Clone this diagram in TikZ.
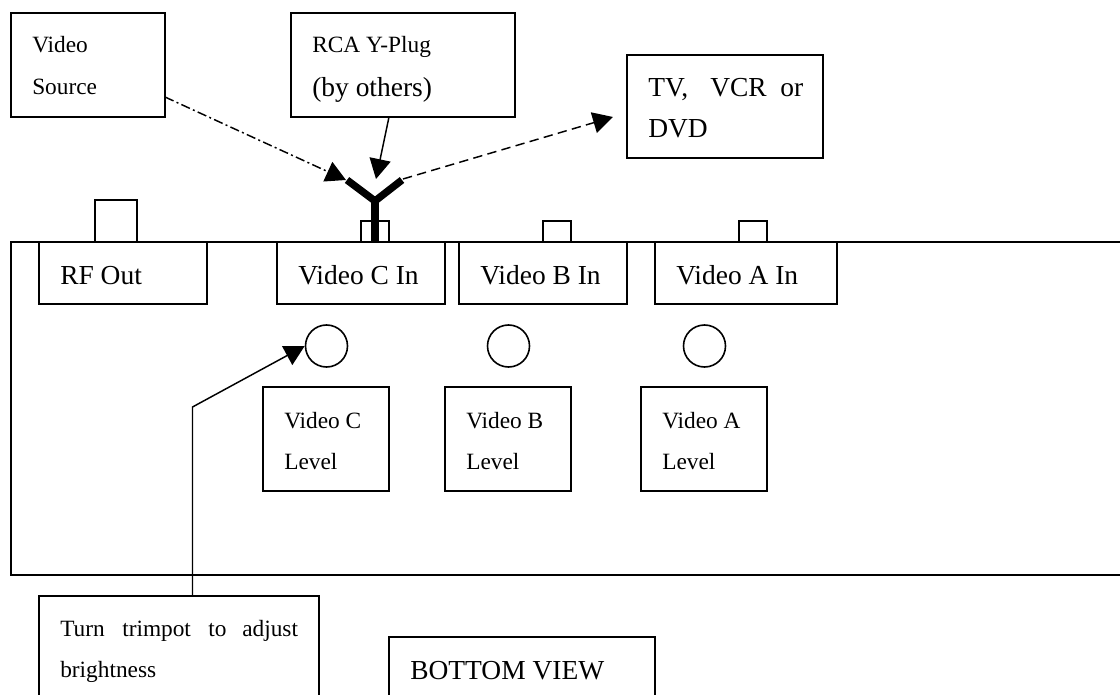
\documentclass[tikz,border=0pt]{standalone}
\usepackage{fontspec}
\setmainfont{Liberation Serif}
\usetikzlibrary{arrows.meta}
\tikzset{
  x=0.75pt,y=-0.75pt,
  thin box/.style={draw=black,line width=1.2pt},
  big/.style={font=\fontsize{20.6}{24}\selectfont,anchor=base west,inner sep=0pt},
  small/.style={font=\fontsize{17.5}{18}\selectfont,anchor=base west,inner sep=0pt},
  tipshape/.style={-{Triangle[length=15pt,width=16pt]}},
  lead/.style={line width=1.1pt,tipshape},
  plug/.style={line width=5.5pt,line cap=butt,line join=miter},
  trim/.style={draw,circle,line width=1.2pt,minimum size=31.5pt,inner sep=0pt}
}
\begin{document}
\begin{tikzpicture}
\useasboundingbox (0,0) rectangle (1120,695);
% chassis
\draw[thin box] (1120,242) -- (11,242) -- (11,575) -- (1120,575);
% tabs
\draw[thin box] (95,242) -- (95,200) -- (137,200) -- (137,242);
\draw[thin box] (361,242) -- (361,221) -- (389,221) -- (389,242);
\draw[thin box] (543,242) -- (543,221) -- (571,221) -- (571,242);
\draw[thin box] (739,242) -- (739,221) -- (767,221) -- (767,242);
% top boxes
\draw[thin box] (11,13) rectangle (165,117);
\node[small] (vs1) at (32,53) {Video};
\node[small] (vs2) at (32,95) {Source};
\draw[thin box] (291,13) rectangle (515,117);
\coordinate (rcaB) at (389,117);
\node[small] (rca1) at (312,53) {RCA Y-Plug};
\node[big] (rca2) at (312,97) {(by others)};
\draw[thin box] (627,55) rectangle (823,158);
\node[big] (tv1) at (648,97) {TV,};
\node[big] (tv1b) at (710,97) {VCR};
\node[big] (tv1c) at (780,97) {or};
\node[big] (tv2) at (648,138) {DVD};
% labels
\draw[thin box] (39,242) rectangle (207,304);
\node[big] (rf) at (60,284) {RF Out};
\draw[thin box] (277,242) rectangle (445,304);
\node[big] (vc) at (298,284) {Video C In};
\draw[thin box] (459,242) rectangle (627,304);
\node[big] (vb) at (480,284) {Video B In};
\draw[thin box] (655,242) rectangle (837,304);
\node[big] (va) at (676,284) {Video A In};
% trimpots
\node[trim] (tc) at (326.5,346) {};
\node[trim] (tb) at (508.5,346) {};
\node[trim] (ta) at (704.5,346) {};
% level
\draw[thin box] (263,387) rectangle (389,491);
\node[small] (lc1) at (284,428) {Video C};
\node[small] (lc2) at (284,469) {Level};
\draw[thin box] (445,387) rectangle (571,491);
\node[small] (lb1) at (466,428) {Video B};
\node[small] (lb2) at (466,469) {Level};
\draw[thin box] (641,387) rectangle (767,491);
\node[small] (la1) at (662,428) {Video A};
\node[small] (la2) at (662,469) {Level};
% bottom
\draw[thin box] (39,695) -- (39,596) -- (319,596) -- (319,695);
\node[small] (t1a) at (60,636) {Turn};
\node[small] (t1b) at (122,636) {trimpot};
\node[small] (t1c) at (208,636) {to};
\node[small] (t1d) at (242,636) {adjust};
\node[small] (t2) at (60,677) {brightness};
\draw[thin box] (389,695) -- (389,637) -- (655,637) -- (655,695);
\node[big] (bv) at (410,679) {BOTTOM VIEW};
% Y plug
\draw[plug] (375,242) -- (375,200);
\draw[plug] (347,180) -- (375,201) -- (402,180);
\coordinate (yL) at (346,180);
\coordinate (yT) at (376,179);
\coordinate (yR) at (403,179);
% connectors
\coordinate (vsE) at (165,97);
\coordinate (tvW) at (613,117);
\draw[lead,dash pattern=on 7pt off 2.5pt on 1.5pt off 2.5pt] (vsE) -- (yL);
\draw[lead] (rcaB) -- (yT);
\draw[lead,dash pattern=on 7pt off 4pt] (yR) -- (tvW);
\draw[lead] (192.5,596) -- (192.5,407) -- (tc.west);
\end{tikzpicture}
\end{document}
